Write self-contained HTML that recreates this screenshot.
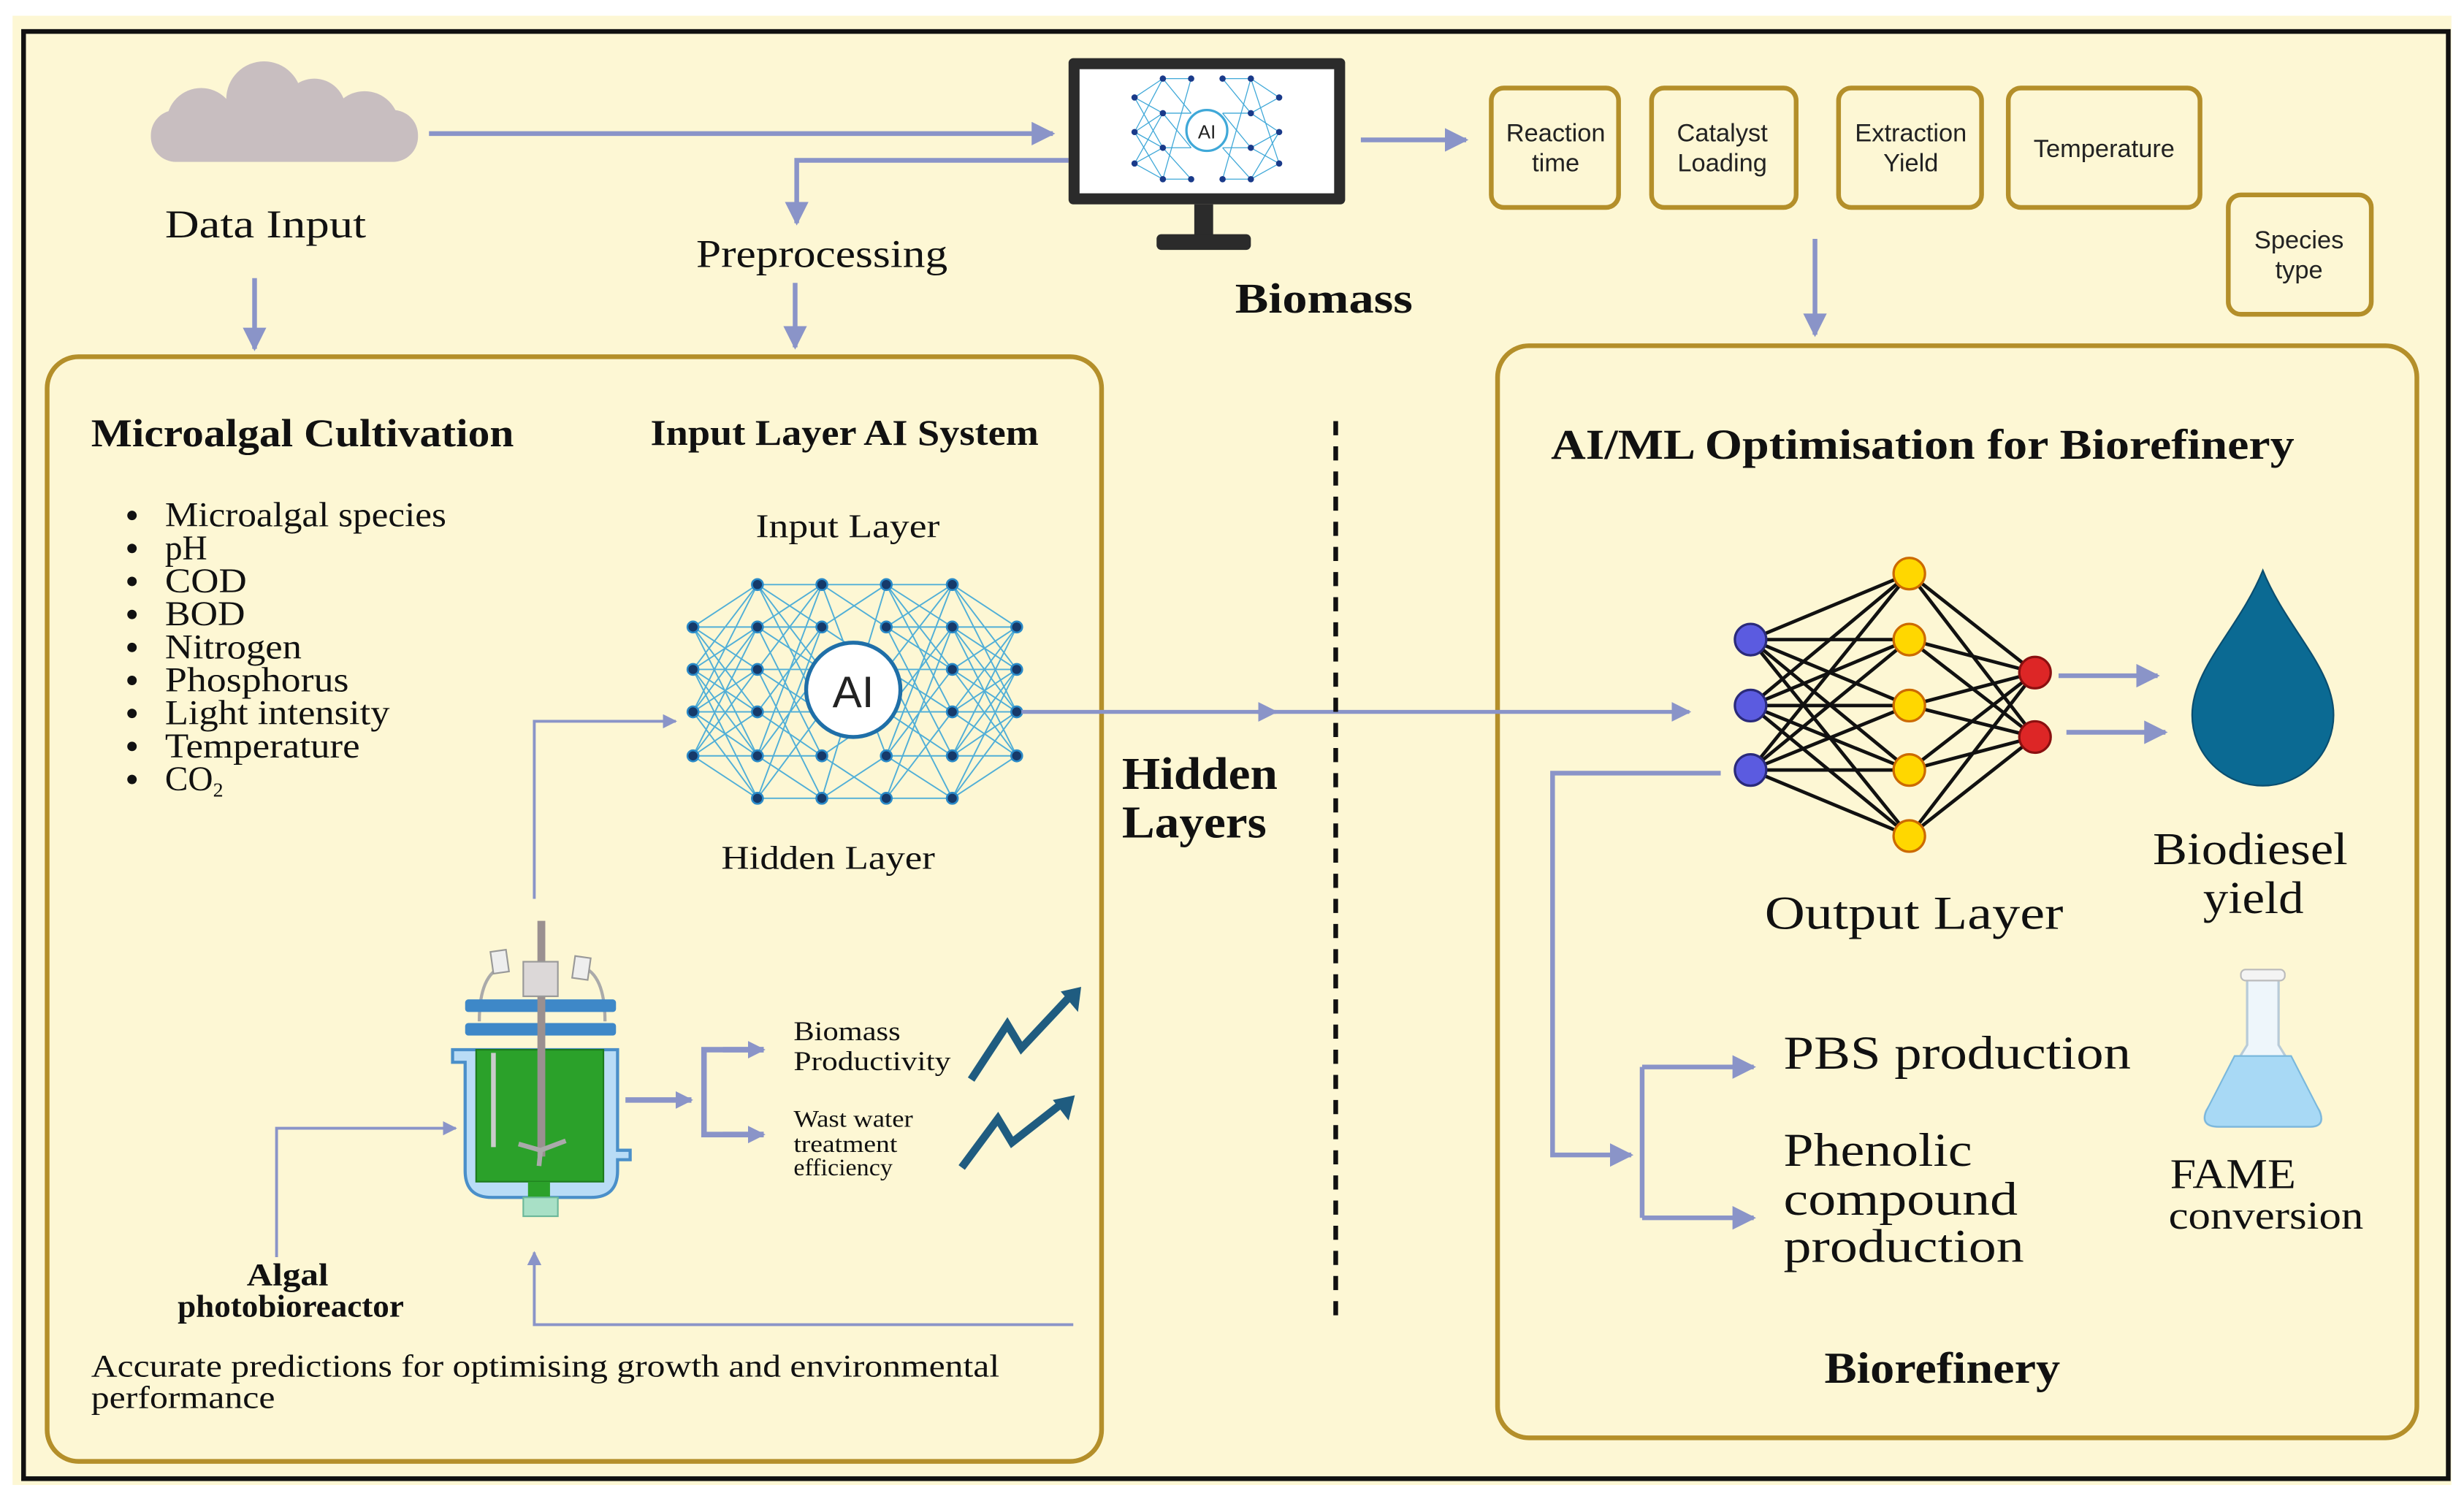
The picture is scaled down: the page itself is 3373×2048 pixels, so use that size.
<!DOCTYPE html>
<html><head><meta charset="utf-8"><style>
html,body{margin:0;padding:0;background:#fff;}
svg{display:block;}
.s{font-family:"Liberation Serif",serif;fill:#111;}
.a{font-family:"Liberation Sans",sans-serif;fill:#222;}
</style></head><body>
<svg width="3373" height="2048" viewBox="0 0 1568 952" xmlns="http://www.w3.org/2000/svg">
<defs>
<marker id="ah" viewBox="0 0 10 10" refX="9" refY="5" markerWidth="5" markerHeight="5" orient="auto-start-reverse"><path d="M0,0L10,5L0,10z" fill="#8a94c8"/></marker>
<marker id="ab" viewBox="0 0 10 10" refX="9" refY="5" markerWidth="3.2" markerHeight="3.2" orient="auto"><path d="M0,0L10,5L0,10z" fill="#8a94c8"/></marker>
</defs>
<rect x="0" y="0" width="1568" height="952" fill="#fff"/>
<rect x="8" y="10" width="1552" height="935" fill="#fdf7d4"/>
<rect x="15" y="20" width="1543" height="921" fill="#fdf7d4" stroke="#111" stroke-width="3"/>

<!-- cloud -->
<g fill="#c8bec0">
<rect x="96" y="70" width="170" height="33" rx="16"/>
<circle cx="128" cy="78" r="22"/><circle cx="168" cy="63" r="24"/><circle cx="200" cy="70" r="20"/><circle cx="232" cy="80" r="22"/>
</g>
<g stroke="#8a94c8" stroke-width="3" fill="none">
<path d="M273 85H670" marker-end="url(#ah)"/>
<path d="M680 102H507V142" marker-end="url(#ah)"/>
<path d="M162 177V222" marker-end="url(#ah)"/>
<path d="M506 180V221" marker-end="url(#ah)"/>
<path d="M866 89H933" marker-end="url(#ah)"/>
<path d="M1155 152V213" marker-end="url(#ah)"/>
</g>
<text class="s" x="105" y="151" font-size="25" textLength="128" lengthAdjust="spacingAndGlyphs">Data Input</text>
<text class="s" x="443" y="170" font-size="25" textLength="160" lengthAdjust="spacingAndGlyphs">Preprocessing</text>

<!-- monitor -->
<rect x="680" y="37" width="176" height="93" rx="3" fill="#2b2b2b"/>
<rect x="687" y="44" width="162" height="79" fill="#fff"/>
<rect x="760" y="130" width="12" height="20" fill="#2b2b2b"/>
<rect x="736" y="149" width="60" height="10" rx="3" fill="#2b2b2b"/>
<g stroke="#3fa8d8" stroke-width="0.6">
<path d="M722 62L740 50M722 62L740 72M722 62L740 94M722 84L740 50M722 84L740 72M722 84L740 94M722 84L740 114M722 104L740 72M722 104L740 94M722 104L740 114M740 50L758 72M740 72L758 94M740 94L758 114M740 114L758 50M740 50L758 50M740 72L758 72M740 94L758 94M740 114L758 114M778 50L796 72M778 72L796 94M778 94L796 114M778 114L796 50M778 50L796 50M778 72L796 72M778 94L796 94M778 114L796 114M796 50L814 62M796 72L814 84M796 94L814 104M796 114L814 84M796 50L814 104M796 72L814 62M796 94L814 84M796 114L814 104"/>
</g>
<g fill="#1a3a8a"><circle cx="722" cy="62" r="2"/><circle cx="722" cy="84" r="2"/><circle cx="722" cy="104" r="2"/><circle cx="740" cy="50" r="2"/><circle cx="740" cy="72" r="2"/><circle cx="740" cy="94" r="2"/><circle cx="740" cy="114" r="2"/><circle cx="758" cy="50" r="2"/><circle cx="758" cy="114" r="2"/><circle cx="778" cy="50" r="2"/><circle cx="778" cy="114" r="2"/><circle cx="796" cy="50" r="2"/><circle cx="796" cy="72" r="2"/><circle cx="796" cy="94" r="2"/><circle cx="796" cy="114" r="2"/><circle cx="814" cy="62" r="2"/><circle cx="814" cy="84" r="2"/><circle cx="814" cy="104" r="2"/></g>
<circle cx="768" cy="83" r="13" fill="#fff" stroke="#3fa8d8" stroke-width="1.5"/>
<text class="a" x="768" y="88" font-size="12" text-anchor="middle" fill="#1f6fa8">AI</text>
<text class="s" x="786" y="199" font-size="27" font-weight="bold" textLength="113" lengthAdjust="spacingAndGlyphs">Biomass</text>

<!-- parameter boxes -->
<g fill="none" stroke="#b48f2a" stroke-width="3">
<rect x="949" y="56" width="81" height="76" rx="8"/>
<rect x="1051" y="56" width="92" height="76" rx="8"/>
<rect x="1170" y="56" width="91" height="76" rx="8"/>
<rect x="1278" y="56" width="122" height="76" rx="8"/>
<rect x="1418" y="124" width="91" height="76" rx="8"/>
</g>
<g class="a" font-size="16" text-anchor="middle">
<text x="990" y="90">Reaction</text><text x="990" y="109">time</text>
<text x="1096" y="90">Catalyst</text><text x="1096" y="109">Loading</text>
<text x="1216" y="90">Extraction</text><text x="1216" y="109">Yield</text>
<text x="1339" y="100">Temperature</text>
<text x="1463" y="158">Species</text><text x="1463" y="177">type</text>
</g>

<!-- big boxes -->
<rect x="30" y="227" width="671" height="703" rx="20" fill="none" stroke="#b48f2a" stroke-width="3"/>
<rect x="953" y="220" width="585" height="695" rx="20" fill="none" stroke="#b48f2a" stroke-width="3"/>

<text class="s" x="58" y="284" font-size="25" font-weight="bold" textLength="269" lengthAdjust="spacingAndGlyphs">Microalgal Cultivation</text>
<text class="s" x="414" y="283" font-size="23" font-weight="bold" textLength="247" lengthAdjust="spacingAndGlyphs">Input Layer AI System</text>
<g class="s" font-size="22">
<text x="105" y="335" textLength="179" lengthAdjust="spacingAndGlyphs">Microalgal species</text>
<text x="105" y="356">pH</text>
<text x="105" y="377" textLength="52" lengthAdjust="spacingAndGlyphs">COD</text>
<text x="105" y="398" textLength="51" lengthAdjust="spacingAndGlyphs">BOD</text>
<text x="105" y="419" textLength="87" lengthAdjust="spacingAndGlyphs">Nitrogen</text>
<text x="105" y="440" textLength="117" lengthAdjust="spacingAndGlyphs">Phosphorus</text>
<text x="105" y="461" textLength="143" lengthAdjust="spacingAndGlyphs">Light intensity</text>
<text x="105" y="482" textLength="124" lengthAdjust="spacingAndGlyphs">Temperature</text>
<text x="105" y="503">CO<tspan font-size="13" dy="4">2</tspan></text>
</g>
<g fill="#111"><circle cx="84" cy="328" r="3"/><circle cx="84" cy="349" r="3"/><circle cx="84" cy="370" r="3"/><circle cx="84" cy="391" r="3"/><circle cx="84" cy="412" r="3"/><circle cx="84" cy="433" r="3"/><circle cx="84" cy="454" r="3"/><circle cx="84" cy="475" r="3"/><circle cx="84" cy="496" r="3"/></g>
<text class="s" x="481" y="342" font-size="21" textLength="117" lengthAdjust="spacingAndGlyphs">Input Layer</text>

<!-- left neural net -->
<g stroke="#3fa8d8" stroke-width="0.9" opacity="0.9">
<path d="M441 399L482 372M441 399L482 399M441 399L482 426M441 399L482 453M441 399L482 481M441 426L482 372M441 426L482 399M441 426L482 426M441 426L482 453M441 426L482 481M441 426L482 508M441 453L482 372M441 453L482 399M441 453L482 426M441 453L482 453M441 453L482 481M441 453L482 508M441 481L482 399M441 481L482 426M441 481L482 453M441 481L482 481M441 481L482 508"/>
<path d="M482 372L523 372M482 372L523 399M482 372L523 426M482 372L523 453M482 399L523 372M482 399L523 399M482 399L523 426M482 399L523 481M482 426L523 372M482 426L523 426M482 426L523 453M482 426L523 508M482 453L523 399M482 453L523 453M482 453L523 481M482 481L523 372M482 481L523 426M482 481L523 481M482 481L523 508M482 508L523 399M482 508L523 453M482 508L523 508"/>
<path d="M564 372L606 372M564 372L606 399M564 372L606 426M564 372L606 453M564 399L606 372M564 399L606 399M564 399L606 426M564 399L606 481M564 426L606 372M564 426L606 426M564 426L606 453M564 426L606 508M564 453L606 399M564 453L606 453M564 453L606 481M564 481L606 372M564 481L606 426M564 481L606 481M564 481L606 508M564 508L606 399M564 508L606 453M564 508L606 508"/>
<path d="M523 372L564 372M523 372L564 399M523 399L564 372M523 399L564 426M523 481L564 508M523 508L564 481M523 508L564 508M523 481L564 453M523 372L564 481M523 508L564 372"/>
<path d="M606 372L647 399M606 372L647 426M606 372L647 453M606 399L647 399M606 399L647 426M606 399L647 453M606 399L647 481M606 426L647 399M606 426L647 426M606 426L647 453M606 426L647 481M606 453L647 399M606 453L647 426M606 453L647 453M606 453L647 481M606 481L647 399M606 481L647 426M606 481L647 453M606 481L647 481M606 508L647 426M606 508L647 453M606 508L647 481"/>
</g>
<g fill="#163a6a" stroke="#2a8ac8" stroke-width="1.2">
<circle cx="441" cy="399" r="3.5"/><circle cx="441" cy="426" r="3.5"/><circle cx="441" cy="453" r="3.5"/><circle cx="441" cy="481" r="3.5"/>
<circle cx="482" cy="372" r="3.5"/><circle cx="482" cy="399" r="3.5"/><circle cx="482" cy="426" r="3.5"/><circle cx="482" cy="453" r="3.5"/><circle cx="482" cy="481" r="3.5"/><circle cx="482" cy="508" r="3.5"/>
<circle cx="523" cy="372" r="3.5"/><circle cx="523" cy="399" r="3.5"/><circle cx="523" cy="481" r="3.5"/><circle cx="523" cy="508" r="3.5"/>
<circle cx="564" cy="372" r="3.5"/><circle cx="564" cy="399" r="3.5"/><circle cx="564" cy="481" r="3.5"/><circle cx="564" cy="508" r="3.5"/>
<circle cx="606" cy="372" r="3.5"/><circle cx="606" cy="399" r="3.5"/><circle cx="606" cy="426" r="3.5"/><circle cx="606" cy="453" r="3.5"/><circle cx="606" cy="481" r="3.5"/><circle cx="606" cy="508" r="3.5"/>
<circle cx="647" cy="399" r="3.5"/><circle cx="647" cy="426" r="3.5"/><circle cx="647" cy="453" r="3.5"/><circle cx="647" cy="481" r="3.5"/>
</g>
<circle cx="543" cy="439" r="30" fill="#fff" stroke="#1f6fa8" stroke-width="2.5"/>
<text class="a" x="543" y="450" font-size="28" text-anchor="middle" fill="#1f6fa8">AI</text>
<text class="s" x="459" y="553" font-size="21" textLength="136" lengthAdjust="spacingAndGlyphs">Hidden Layer</text>

<g stroke="#8a94c8" stroke-width="2.5" fill="none">
<path d="M650 453H1075" marker-end="url(#ah)"/>
<path d="M800 453H812" marker-end="url(#ah)"/>
<path d="M340 572V459H430" stroke-width="1.8" marker-end="url(#ah)"/>
<path d="M176 800V718H290" stroke-width="1.8" marker-end="url(#ah)"/>
<path d="M683 843H340V797" stroke-width="1.8" marker-end="url(#ah)"/>
</g>
<text class="s" x="714" y="502" font-size="29" font-weight="bold" textLength="99" lengthAdjust="spacingAndGlyphs">Hidden</text>
<text class="s" x="714" y="533" font-size="29" font-weight="bold" textLength="92" lengthAdjust="spacingAndGlyphs">Layers</text>
<path d="M850 268V838" stroke="#111" stroke-width="3" stroke-dasharray="9,7"/>

<!-- reactor -->
<g>
<path d="M296 668H288V676H296V745Q296 762 313 762H376Q393 762 393 745V738H401V732H393V668Z" fill="#b9dcf6" stroke="#4a8fc9" stroke-width="2"/>
<rect x="303" y="668" width="81" height="84" fill="#2ba12a" stroke="#1d7a1d" stroke-width="1"/>
<rect x="336" y="752" width="14" height="18" fill="#2ba12a"/>
<rect x="333" y="762" width="22" height="12" fill="#a8e0c6" stroke="#6cb89a" stroke-width="1"/>
<path d="M305 650Q305 620 320 615M385 650Q385 620 370 615" stroke="#aaa" stroke-width="2" fill="none"/>
<rect x="296" y="636" width="96" height="8" rx="2" fill="#3e88c8"/>
<rect x="296" y="651" width="96" height="8" rx="2" fill="#3e88c8"/>
<rect x="342" y="586" width="5" height="150" fill="#9a9090"/>
<rect x="333" y="612" width="22" height="22" fill="#dcd8d8" stroke="#999" stroke-width="1"/>
<rect x="313" y="605" width="10" height="14" fill="#eee" stroke="#999" stroke-width="1" transform="rotate(-8 318 612)"/>
<rect x="365" y="609" width="10" height="14" fill="#eee" stroke="#999" stroke-width="1" transform="rotate(8 370 616)"/>
<path d="M314 670V730" stroke="#cccccc" stroke-width="3"/>
<path d="M330 728L344 732L360 726M344 732L343 742" stroke="#aaa" stroke-width="3" fill="none"/>
</g>

<g stroke="#8a94c8" stroke-width="3.5" fill="none">
<path d="M398 700H440" marker-end="url(#ab)"/>
<path d="M486 668H448V722H486" />
<path d="M460 668H486" marker-end="url(#ab)"/>
<path d="M460 722H486" marker-end="url(#ab)"/>
</g>
<text class="s" x="505" y="662" font-size="17" textLength="68" lengthAdjust="spacingAndGlyphs">Biomass</text>
<text class="s" x="505" y="681" font-size="17" textLength="100" lengthAdjust="spacingAndGlyphs">Productivity</text>
<text class="s" x="505" y="717" font-size="15" textLength="76" lengthAdjust="spacingAndGlyphs">Wast water</text>
<text class="s" x="505" y="733" font-size="15" textLength="66" lengthAdjust="spacingAndGlyphs">treatment</text>
<text class="s" x="505" y="748" font-size="15" textLength="63" lengthAdjust="spacingAndGlyphs">efficiency</text>
<g stroke="#1f5c80" stroke-width="5" fill="none">
<path d="M618 687L641 652L650 667L680 635"/>
<path d="M612 743L635 712L644 727L676 702"/>
</g>
<path d="M688 628L675 631L686 644Z" fill="#1f5c80"/>
<path d="M684 697L670 700L680 713Z" fill="#1f5c80"/>
<text class="s" x="183" y="818" font-size="20" font-weight="bold" text-anchor="middle" textLength="52" lengthAdjust="spacingAndGlyphs">Algal</text>
<text class="s" x="113" y="838" font-size="20" font-weight="bold" textLength="144" lengthAdjust="spacingAndGlyphs">photobioreactor</text>
<text class="s" x="58" y="876" font-size="20" textLength="578" lengthAdjust="spacingAndGlyphs">Accurate predictions for optimising growth and environmental</text>
<text class="s" x="58" y="896" font-size="20" textLength="117" lengthAdjust="spacingAndGlyphs">performance</text>

<!-- right panel -->
<text class="s" x="987" y="292" font-size="27" font-weight="bold" textLength="473" lengthAdjust="spacingAndGlyphs">AI/ML Optimisation for Biorefinery</text>
<g stroke="#111" stroke-width="2.2">
<path d="M1114 407L1215 365M1114 407L1215 407M1114 407L1215 449M1114 407L1215 490M1114 407L1215 532M1114 449L1215 365M1114 449L1215 407M1114 449L1215 449M1114 449L1215 490M1114 449L1215 532M1114 490L1215 365M1114 490L1215 407M1114 490L1215 449M1114 490L1215 490M1114 490L1215 532"/>
<path d="M1215 365L1295 428M1215 365L1295 469M1215 407L1295 428M1215 407L1295 469M1215 449L1295 428M1215 449L1295 469M1215 490L1295 428M1215 490L1295 469M1215 532L1295 428M1215 532L1295 469"/>
</g>
<g stroke="#2a2a7a" stroke-width="1.5" fill="#5b5be0"><circle cx="1114" cy="407" r="10"/><circle cx="1114" cy="449" r="10"/><circle cx="1114" cy="490" r="10"/></g>
<g stroke="#cc6a00" stroke-width="1.5" fill="#ffd700"><circle cx="1215" cy="365" r="10"/><circle cx="1215" cy="407" r="10"/><circle cx="1215" cy="449" r="10"/><circle cx="1215" cy="490" r="10"/><circle cx="1215" cy="532" r="10"/></g>
<g stroke="#8a1010" stroke-width="1.5" fill="#dd2626"><circle cx="1295" cy="428" r="10"/><circle cx="1295" cy="469" r="10"/></g>
<g stroke="#8a94c8" stroke-width="3" fill="none">
<path d="M1310 430H1373" marker-end="url(#ah)"/>
<path d="M1315 466H1378" marker-end="url(#ah)"/>
<path d="M1095 492H988V735H1038" marker-end="url(#ah)"/>
<path d="M1045 679V775"/>
<path d="M1045 679H1116" marker-end="url(#ah)"/>
<path d="M1045 775H1116" marker-end="url(#ah)"/>
</g>
<path d="M1440 363C1425 400 1395 425 1395 455A45 45 0 0 0 1485 455C1485 425 1455 400 1440 363Z" fill="#0b6a93" stroke="#0a4e70" stroke-width="1"/>
<text class="s" x="1370" y="550" font-size="29" textLength="124" lengthAdjust="spacingAndGlyphs">Biodiesel</text>
<text class="s" x="1402" y="581" font-size="29" textLength="64" lengthAdjust="spacingAndGlyphs">yield</text>
<text class="s" x="1123" y="591" font-size="30" textLength="190" lengthAdjust="spacingAndGlyphs">Output Layer</text>
<text class="s" x="1135" y="680" font-size="30" textLength="221" lengthAdjust="spacingAndGlyphs">PBS production</text>
<text class="s" x="1135" y="742" font-size="30" textLength="120" lengthAdjust="spacingAndGlyphs">Phenolic</text>
<text class="s" x="1135" y="773" font-size="30" textLength="149" lengthAdjust="spacingAndGlyphs">compound</text>
<text class="s" x="1135" y="803" font-size="30" textLength="153" lengthAdjust="spacingAndGlyphs">production</text>
<!-- flask -->
<path d="M1430 622V665L1404 707Q1400 717 1412 717H1470Q1480 717 1476 707L1450 665V622Z" fill="#eef6fb" stroke="#b8cbd8" stroke-width="1.5"/>
<path d="M1422 672H1458L1476 707Q1480 717 1470 717H1412Q1400 717 1404 707Z" fill="#a8d9f5" stroke="#7ab8dc" stroke-width="1"/>
<rect x="1426" y="617" width="28" height="7" rx="3" fill="#f4f4f4" stroke="#bbb" stroke-width="1"/>
<text class="s" x="1381" y="756" font-size="27" textLength="80" lengthAdjust="spacingAndGlyphs">FAME</text>
<text class="s" x="1380" y="782" font-size="25" textLength="124" lengthAdjust="spacingAndGlyphs">conversion</text>
<text class="s" x="1161" y="880" font-size="28" font-weight="bold" textLength="150" lengthAdjust="spacingAndGlyphs">Biorefinery</text>
</svg>
</body></html>
